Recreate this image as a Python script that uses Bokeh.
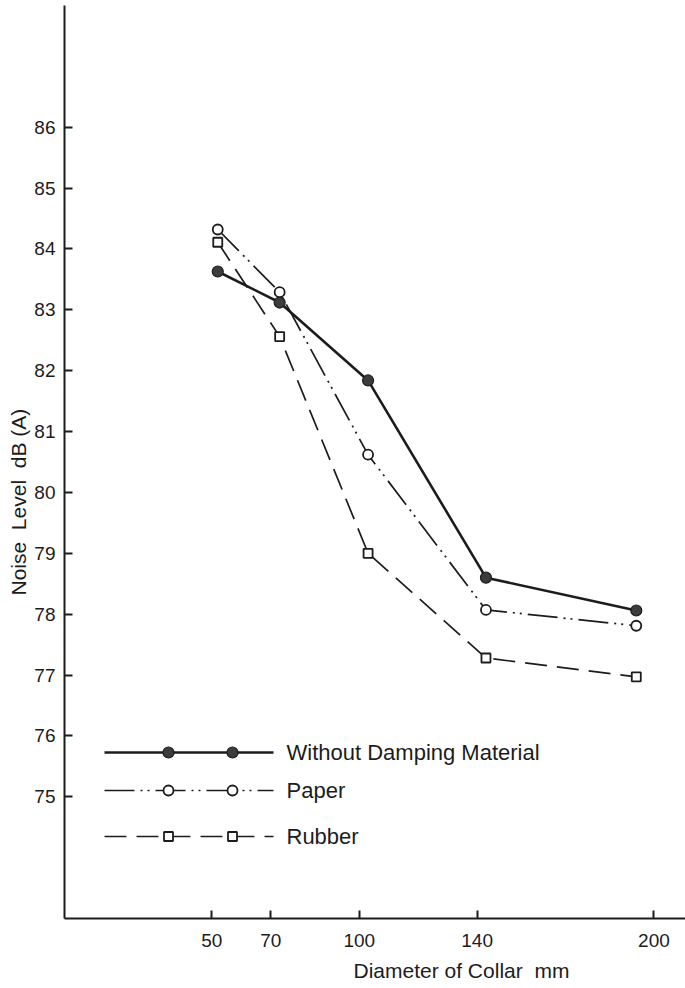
from bokeh.plotting import figure
from bokeh.models import FixedTicker, Title
from bokeh.core.properties import value
from bokeh.embed import file_html
from bokeh.resources import INLINE

# Measured noise levels for three collar treatments
diameter = [52, 73, 103, 143, 194]                 # mm
without_damping = [83.63, 83.12, 81.84, 78.60, 78.06]  # dB(A)
paper = [84.32, 83.29, 80.62, 78.07, 77.81]
rubber = [84.11, 82.56, 79.00, 77.28, 76.97]

x_ticks = [50, 70, 100, 140, 200]
y_ticks = [75, 76, 77, 78, 79, 80, 81, 82, 83, 84, 85, 86]

series_names = ["Without Damping Material", "Paper", "Rubber"]
x_title = "Diameter of Collar\u00a0\u00a0mm"
y_title = "Noise\u00a0 Level\u00a0 dB (A)"

INK = "#1c1c1c"
FONT = "Liberation Sans"

# Frame geometry (pixels)
W, H = 685, 988
LEFT, TOP, BOTTOM = 64, 5, 70
FRAME_W = W - LEFT
FRAME_H = H - TOP - BOTTOM

X0, X1 = 0.0, 210.7
Y0, Y1 = 73.0, 88.0

p = figure(width=W, height=H, x_range=(X0, X1), y_range=(Y0, Y1),
           output_backend="svg", toolbar_location=None,
           min_border_left=LEFT, min_border_right=0,
           min_border_top=TOP, min_border_bottom=BOTTOM)
p.outline_line_color = None
p.grid.visible = False
p.background_fill_color = "white"
p.border_fill_color = "white"

for ax in (p.xaxis[0], p.yaxis[0]):
    ax.axis_line_color = INK
    ax.axis_line_width = 2
    ax.major_tick_line_color = INK
    ax.major_tick_line_width = 2
    ax.major_tick_in = 8
    ax.major_tick_out = 0
    ax.minor_tick_line_color = None
    ax.major_label_text_font = FONT
    ax.major_label_text_font_size = "19px"
    ax.major_label_text_color = INK

p.xaxis[0].ticker = FixedTicker(ticks=x_ticks)
p.yaxis[0].ticker = FixedTicker(ticks=y_ticks)
p.xaxis[0].major_label_standoff = 15
p.yaxis[0].major_label_standoff = 9

# Axis titles, shifted along their axes
p.add_layout(Title(text=x_title, align="left", offset=289, standoff=14,
                   text_font=FONT, text_font_size="21px",
                   text_font_style="normal", text_color=INK), "below")
p.add_layout(Title(text=y_title, align="left", offset=323, standoff=4,
                   text_font=FONT, text_font_size="21px",
                   text_font_style="normal", text_color=INK), "left")


def px_x(px):
    return X0 + (px - LEFT) / FRAME_W * (X1 - X0)


def px_y(py):
    return Y1 - (py - TOP) / FRAME_H * (Y1 - Y0)


styles = [
    dict(line_width=2.6, line_dash="solid", marker="circle", size=11,
         fill="#3c3c3c", mline=1.2),
    dict(line_width=1.7, line_dash="30 6 2 5 2 6", marker="circle", size=10,
         fill="white", mline=1.8),
    dict(line_width=1.7, line_dash="22 10", marker="square", size=9,
         fill="white", mline=1.8),
]
values = [without_damping, paper, rubber]

for vals, st in zip(values, styles):
    p.line(diameter, vals, line_color=INK, line_width=st["line_width"],
           line_dash=st["line_dash"])
    p.scatter(diameter, vals, marker=st["marker"], size=st["size"],
              fill_color=st["fill"], line_color=INK, line_width=st["mline"])

# Hand-built key: a line sample carrying two markers per series
key_rows = [752, 790, 836]
for name, st, row in zip(series_names, styles, key_rows):
    ky = px_y(row)
    p.line([px_x(104), px_x(273)], [ky, ky], line_color=INK,
           line_width=st["line_width"], line_dash=st["line_dash"])
    p.scatter([px_x(168), px_x(232)], [ky, ky], marker=st["marker"],
              size=st["size"], fill_color=st["fill"], line_color=INK,
              line_width=st["mline"])
    p.text([px_x(286)], [ky], text=[name], text_font=value(FONT),
           text_font_size="22px", text_color=INK, text_baseline="middle",
           text_align="left")

open("out.html", "w").write(file_html(p, INLINE))
